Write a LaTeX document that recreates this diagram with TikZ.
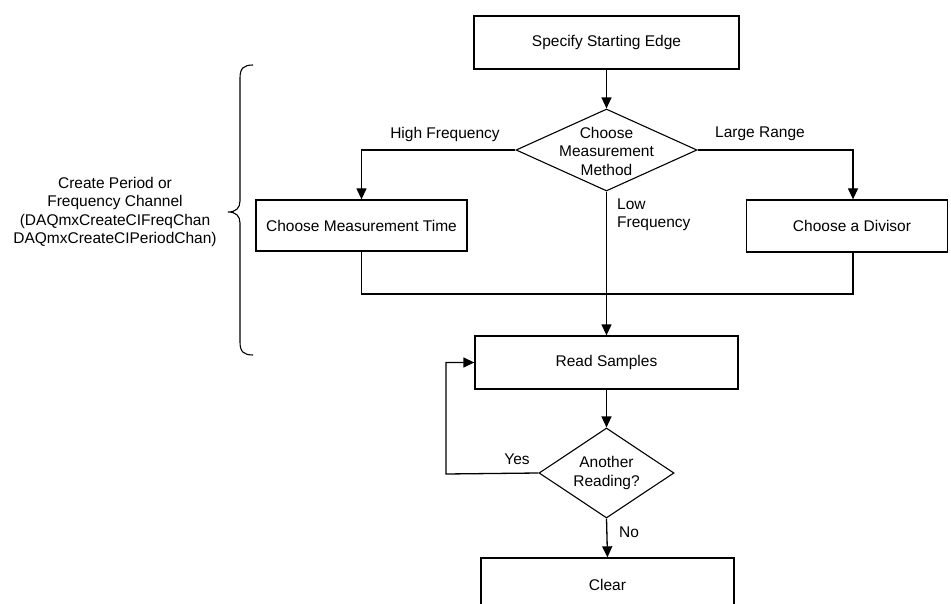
\documentclass[tikz,border=0pt]{standalone}
\usepackage{fontspec}
\setmainfont{Liberation Sans}
\usetikzlibrary{shapes.geometric,arrows.meta}
\begin{document}
\begin{tikzpicture}[x=1pt,y=-1pt,
  every node/.style={font=\fontsize{15.5}{18.5}\selectfont},
  box/.style={draw,line width=1.3pt,inner sep=0pt,minimum height=53pt},
  dia/.style={draw,diamond,line width=1.1pt,inner sep=0pt},
  lbl/.style={inner sep=0pt},
  ln/.style={line width=1.3pt},
  arr/.style={line width=1.3pt,-{Triangle[length=11pt,width=10pt]}}]
\useasboundingbox (0,0) rectangle (951,604);
\fill[white] (0,0) rectangle (951,604);
% boxes
\node[box,minimum width=265pt] (start) at (606.5,42.5) {Specify Starting Edge};
\node[dia,minimum width=181pt,minimum height=82pt] (meth) at (606.5,150) {};
\node[lbl,align=center] (methtxt) at (606.5,151) {Choose\\Measurement\\Method};
\node[box,minimum width=211pt,minimum height=51pt] (mtime) at (361.5,225.5) {Choose Measurement Time};
\node[box,minimum width=201pt,minimum height=52pt] (div) at (847,226) {\hspace*{10pt}Choose a Divisor};
\node[box,minimum width=263pt] (read) at (606.5,362.5) {Read Samples};
\node[dia,minimum width=135pt,minimum height=90pt] (ar) at (606.5,473) {};
\node[lbl,align=center] (artxt) at (606.5,473) {Another\\Reading?};
\node[box,minimum width=253pt] (clear) at (607.5,584.5) {Clear};
% labels
\node[lbl] (hf) at (445,134) {High Frequency};
\node[lbl] (lr) at (760,134) {Large Range};
\node[lbl,align=left,anchor=west] (lf) at (617,215) {Low\\Frequency};
\node[lbl] (yes) at (517,459) {Yes};
\node[lbl,anchor=west] (no) at (619,532) {No};
\node[lbl,align=center] (chan) at (115,212) {Create Period or\\Frequency Channel\\(DAQmxCreateCIFreqChan\\DAQmxCreateCIPeriodChan)};
% connectors
\draw[arr] (start.south) -- (meth.north);
\draw[arr] (meth.west) -| (mtime.north);
\draw[arr] (meth.east) -| ([xshift=6pt]div.north);
\draw[arr] (meth.south) -- (read.north);
\coordinate (mL) at (361.5,294);
\coordinate (mR) at (853,294);
\draw[ln] (mtime.south) -- (mL) -- (mR) -- ([xshift=6pt]div.south);
\draw[arr] (read.south) -- (ar.north);
\coordinate (yl) at (446,474);
\draw[arr] (ar.west) -- (yl) |- (read.west);
\draw[arr] (ar.south) -- (clear.north);
% brace
\draw[line width=1.1pt] (253,65) .. controls (244,65) and (240,68) .. (240,78) -- (240,201)
  .. controls (240,208) and (236,212) .. (228,212)
  .. controls (236,212) and (240,216) .. (240,223) -- (240,342)
  .. controls (240,352) and (244,355) .. (253,355);
\end{tikzpicture}
\end{document}
